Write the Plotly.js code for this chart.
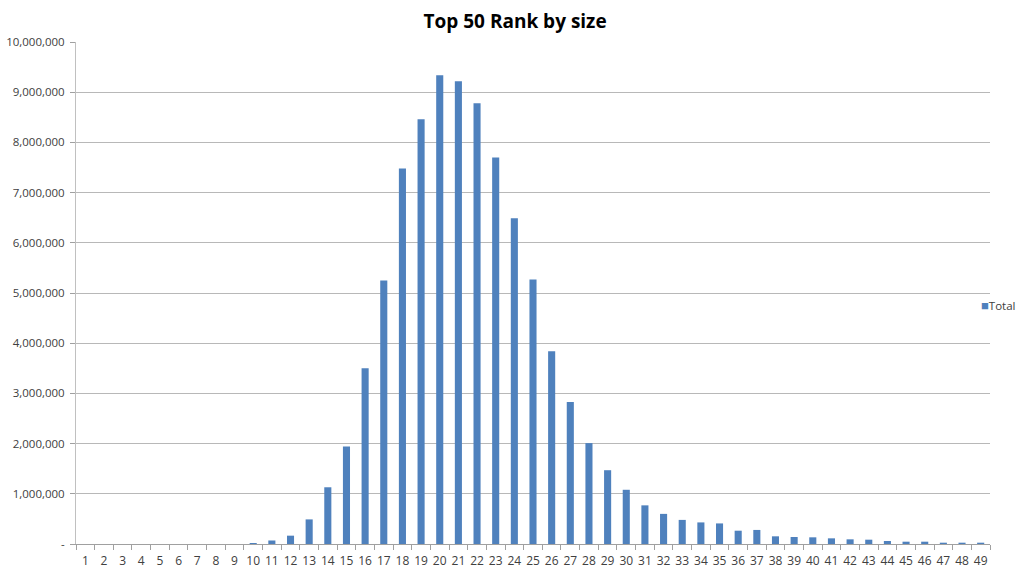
<!DOCTYPE html>
<html>
<head>
<meta charset="utf-8">
<script src="https://cdn.plot.ly/plotly-3.0.1.min.js"></script>
<style>html,body{margin:0;padding:0;background:#fff;}#chart{width:1024px;height:571px;}</style>
</head>
<body>
<div id="chart"></div>
<script>
const categories = ["1","2","3","4","5","6","7","8","9","10","11","12","13","14","15","16","17","18","19","20","21","22","23","24","25","26","27","28","29","30","31","32","33","34","35","36","37","38","39","40","41","42","43","44","45","46","47","48","49"];
const totals = [0,0,0,0,0,0,0,0,0,20000,70000,166000,490000,1130000,1940000,3500000,5250000,7480000,8460000,9340000,9220000,8780000,7700000,6490000,5270000,3840000,2830000,2010000,1470000,1080000,770000,600000,480000,430000,410000,265000,280000,153000,140000,133000,113000,93000,86000,60000,46000,46000,26000,26000,26000];
const yTickVals = [0,1000000,2000000,3000000,4000000,5000000,6000000,7000000,8000000,9000000,10000000];
const yTickText = ["-","1,000,000","2,000,000","3,000,000","4,000,000","5,000,000","6,000,000","7,000,000","8,000,000","9,000,000","10,000,000"];
const seriesName = "Total";
const barColor = "#4F81BD";

const trace = {
  type: "bar",
  name: seriesName,
  x: categories,
  y: totals,
  marker: {color: barColor, line: {width: 0}},
  showlegend: false
};
const layout = {
  width: 1024, height: 571,
  margin: {l: 76, r: 34, t: 42, b: 27, autoexpand: false},
  paper_bgcolor: "#fff", plot_bgcolor: "#fff",
  font: {family: "Open Sans, Liberation Sans, sans-serif", size: 11, color: "#404040"},
  title: {text: "Top 50 Rank by size", x: 0.503, xanchor: "center", y: 0.962, yanchor: "middle",
          font: {family: "Open Sans, sans-serif", size: 19, color: "#000", weight: "bold"}},
  bargap: 0.62,
  xaxis: {type: "category", tickson: "boundaries", ticks: "outside", ticklen: 5, tickcolor: "#a0a0a0",
          showline: true, linecolor: "#a0a0a0", linewidth: 1, showgrid: false, tickangle: 0,
          ticklabelstandoff: 6,
          tickfont: {size: 12, color: "#404040"}, automargin: false},
  yaxis: {range: [0, 10000000], tickvals: yTickVals, ticktext: yTickText, ticks: "outside", ticklen: 5,
          tickcolor: "#a0a0a0", showline: true, linecolor: "#c0c0c0", linewidth: 1,
          gridcolor: "#b8b8b8", gridwidth: 1, zeroline: false, automargin: false,
          ticklabelstandoff: 3,
          tickfont: {size: 11.5, color: "#404040"}},
  annotations: [{
    xref: "paper", yref: "paper", x: 0.988, y: 0.476, xanchor: "left", yanchor: "middle",
    showarrow: false,
    text: "<span style='color:" + barColor + ";font-size:13px'>■</span>" + seriesName,
    font: {size: 11.5, color: "#404040", family: "Open Sans, sans-serif"}
  }]
};
Plotly.newPlot("chart", [trace], layout, {displayModeBar: false, staticPlot: true});
</script>
</body>
</html>
